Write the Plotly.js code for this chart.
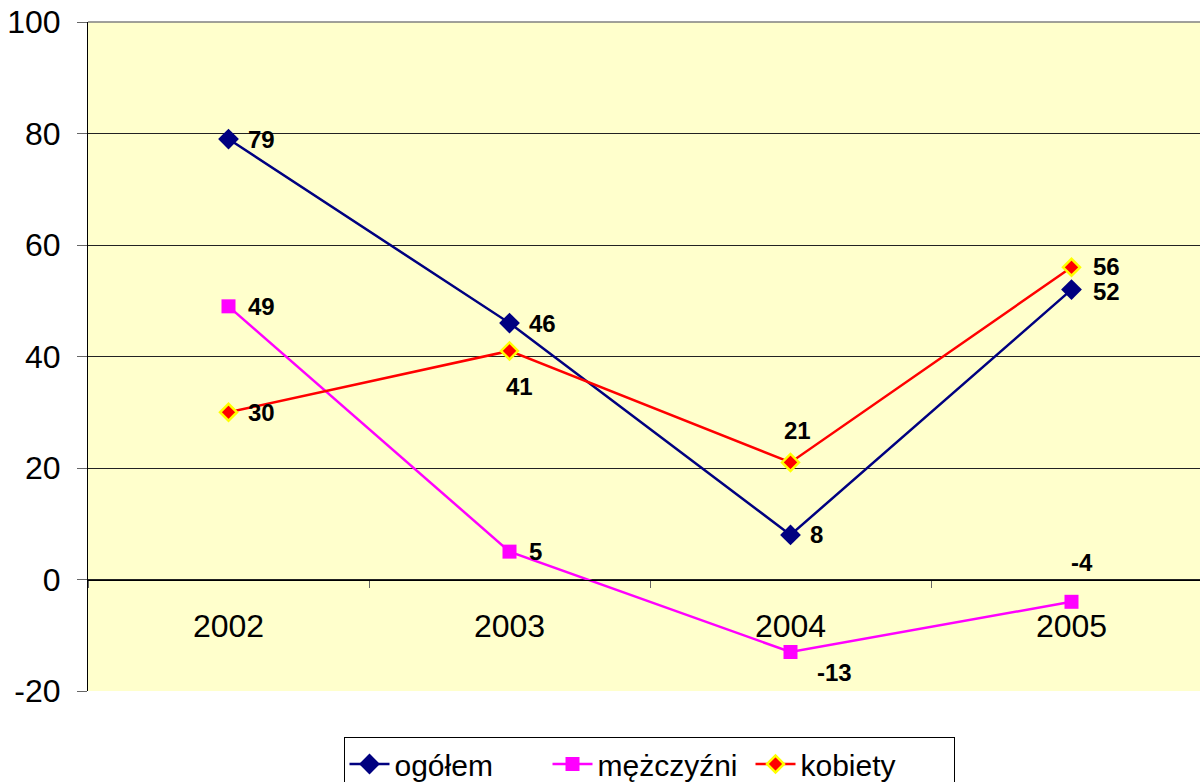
<!DOCTYPE html>
<html>
<head>
<meta charset="utf-8">
<script src="https://cdn.plot.ly/plotly-3.0.1.min.js"></script>
<style>html,body{margin:0;padding:0;overflow:hidden;background:#fff;}#chart{width:1212px;height:782px;}</style>
</head>
<body>
<div id="chart"></div>
<script>
const years = ["2002", "2003", "2004", "2005"];
const ogolem = [79, 46, 8, 52];
const mezczyzni = [49, 5, -13, -4];
const kobiety = [30, 41, 21, 56];
const yTicks = [-20, 0, 20, 40, 60, 80, 100];

// label placement (pixel offsets from the point; style only)
const labelPos = {
  ogolem:    [["left", 17, 0], ["left", 17, 0], ["left", 17, 0], ["left", 19, -2]],
  mezczyzni: [["left", 17, 0], ["left", 17, 0], ["left", 24, -21], ["center", 10, 39]],
  kobiety:   [["left", 17, 0], ["center", 10, -36], ["center", 7, 32], ["left", 19, 1]]
};

const FONT = "Liberation Sans, Arial, sans-serif";
const labelFont = {family: FONT, size: 24, color: "#000"};

function mkTrace(name, vals, color, marker) {
  return {
    x: years, y: vals, name: name, type: "scatter", mode: "lines+markers",
    line: {color: color, width: 2.5}, marker: marker, cliponaxis: false
  };
}

const traces = [
  mkTrace("ogółem", ogolem, "#000080", {symbol: "diamond", size: 16, color: "#000080"}),
  mkTrace("mężczyźni", mezczyzni, "#FF00FF", {symbol: "square", size: 14, color: "#FF00FF"}),
  mkTrace("kobiety", kobiety, "#FF0000", {symbol: "diamond", size: 13, color: "#FF0000", line: {color: "#FFFF00", width: 2.5}})
];

const annotations = [];
[[ogolem, labelPos.ogolem], [mezczyzni, labelPos.mezczyzni], [kobiety, labelPos.kobiety]].forEach(([vals, pos]) => {
  vals.forEach((v, i) => {
    annotations.push({
      x: i, y: v, xref: "x", yref: "y",
      text: "<b>" + v + "</b>", showarrow: false,
      xanchor: pos[i][0], yanchor: "middle",
      xshift: pos[i][1], yshift: pos[i][2],
      font: labelFont
    });
  });
});

const layout = {
  width: 1212, height: 782,
  margin: {l: 88, r: 0, t: 22, b: 91},
  paper_bgcolor: "#FFFFFF",
  plot_bgcolor: "#FFFFCC",
  font: {family: FONT, color: "#000"},
  showlegend: true,
  xaxis: {
    type: "category", range: [-0.5, 3.5],
    anchor: "free", position: 1/6, automargin: false,
    showline: true, linecolor: "#000", linewidth: 1,
    ticks: "outside", tickson: "boundaries", ticklen: 7, tickcolor: "#666", tickwidth: 1,
    showgrid: false, zeroline: false,
    tickfont: {size: 32, family: FONT, color: "#000"},
    ticklabelstandoff: 18
  },
  yaxis: {
    range: [-20, 100], tickvals: yTicks, ticktext: yTicks.map(String), automargin: false,
    showline: true, linecolor: "#000", linewidth: 1,
    ticks: "outside", ticklen: 10, tickcolor: "#666",
    showgrid: true, gridcolor: "#222", gridwidth: 1, zeroline: false,
    tickfont: {size: 32, family: FONT, color: "#000"},
    ticklabelstandoff: 10
  },
  shapes: [
    {type: "line", xref: "paper", yref: "paper", x0: 0, x1: 1, y0: 1, y1: 1, line: {color: "#808080", width: 1.5}}
  ],
  annotations: annotations,
  legend: {
    orientation: "h", x: 649 / 1212, xanchor: "center",
    xref: "container", yref: "container", y: (782 - 737) / 782, yanchor: "top",
    bordercolor: "#000", borderwidth: 1, bgcolor: "#FFFFFF",
    font: {size: 30, family: FONT, color: "#000"},
    itemwidth: 40, entrywidth: 148, entrywidthmode: "pixels"
  }
};

Plotly.newPlot("chart", traces, layout, {displayModeBar: false, staticPlot: true});
</script>
</body>
</html>
